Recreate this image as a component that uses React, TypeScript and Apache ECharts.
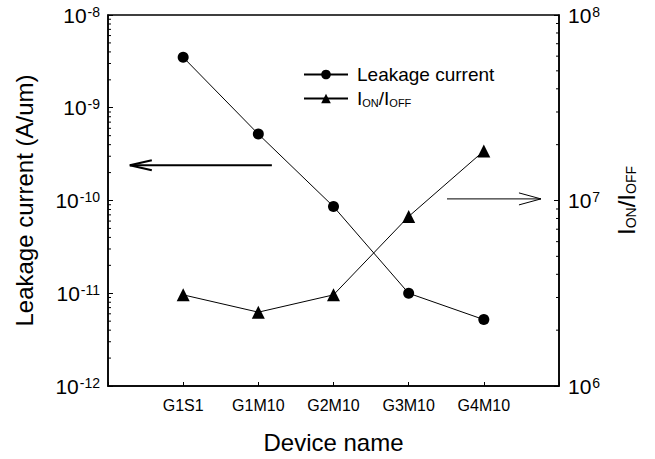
import React, { useEffect, useRef } from 'react';
import * as echarts from 'echarts';

const categories = ['G1S1', 'G1M10', 'G2M10', 'G3M10', 'G4M10'];
const leakage = [3.5e-9, 5.2e-10, 8.6e-11, 1.0e-11, 5.2e-12];
const ionIoff = [3.1e6, 2.5e6, 3.1e6, 8.2e6, 1.85e7];
const minorMultipliers = [2, 3, 4, 5, 6, 7, 8, 9];
const leftDecades = [1e-12, 1e-11, 1e-10, 1e-9];
const rightDecades = [1e6, 1e7];
// [x start, y start, x tip, y tip] in data coordinates
const leftArrow = [2.18, 2.4e-10, 0.29, 2.4e-10];
const rightArrow = [4.51, 1.02e7, 5.76, 1.02e7];

const FONT = '"Liberation Sans", Arial, sans-serif';

const supRich = {
  b: { fontSize: 21, fontFamily: FONT, color: '#000' },
  s: { fontSize: 14, fontFamily: FONT, color: '#000', verticalAlign: 'top' as const, padding: [0, 0, 0, 1] },
};

export default function App() {
  const ref = useRef<HTMLDivElement>(null);
  useEffect(() => {
    if (!ref.current) return;
    const chart = echarts.init(ref.current, undefined, { renderer: 'svg' });
    const leftMinor = leftDecades.flatMap((d) => minorMultipliers.map((m) => m * d));
    const rightMinor = rightDecades.flatMap((d) => minorMultipliers.map((m) => m * d));
    const tickRender = (xVal: number, dir: number) => (params: any, api: any) => {
      const p = api.coord([xVal, api.value(1)]);
      return {
        type: 'line',
        shape: { x1: p[0], y1: p[1], x2: p[0] + dir * 3, y2: p[1] },
        style: { stroke: '#000', lineWidth: 1 },
      };
    };
    const arrowRender = (lw: number, len: number, w: number) => (params: any, api: any) => {
      const p0 = api.coord([api.value(0), api.value(1)]);
      const p1 = api.coord([api.value(2), api.value(3)]);
      const dir = p1[0] > p0[0] ? 1 : -1;
      const st = { stroke: '#000', lineWidth: lw };
      return {
        type: 'group',
        children: [
          { type: 'line', shape: { x1: p0[0], y1: p0[1], x2: p1[0], y2: p1[1] }, style: st },
          { type: 'line', shape: { x1: p1[0], y1: p1[1], x2: p1[0] - dir * len, y2: p1[1] - w }, style: st },
          { type: 'line', shape: { x1: p1[0], y1: p1[1], x2: p1[0] - dir * len, y2: p1[1] + w }, style: st },
        ],
      };
    };
    const axisLine = { show: true, lineStyle: { color: '#000', width: 1.5 } };
    chart.setOption({
      animation: false,
      backgroundColor: '#fff',
      grid: { left: 108, right: 96, top: 15, bottom: 65, show: true, borderColor: '#000', borderWidth: 1.5 },
      legend: {
        data: ['Leakage current', 'ION/IOFF'],
        orient: 'vertical',
        left: 298,
        top: 60,
        itemWidth: 44,
        itemHeight: 12,
        itemGap: 5,
        formatter: (name: string) => (name === 'ION/IOFF' ? '{b|I}{s|ON}{b|/I}{s|OFF}' : name),
        textStyle: {
          fontSize: 19,
          fontFamily: FONT,
          color: '#000',
          padding: [0, 0, 0, 4],
          rich: {
            b: { fontSize: 19, lineHeight: 19, fontFamily: FONT, color: '#000' },
            s: { fontSize: 11, lineHeight: 9, fontFamily: FONT, color: '#000', verticalAlign: 'bottom' },
          },
        },
      },
      xAxis: {
        type: 'value',
        min: 0,
        max: 6,
        interval: 1,
        axisLine,
        axisTick: { inside: true, length: 4, lineStyle: { color: '#000', width: 1 } },
        splitLine: { show: false },
        axisLabel: {
          formatter: (v: number) => categories[v - 1] ?? '',
          fontSize: 16,
          fontFamily: FONT,
          color: '#000',
          margin: 11,
        },
        name: 'Device name',
        nameLocation: 'middle',
        nameGap: 44,
        nameTextStyle: { fontSize: 24, fontFamily: FONT, color: '#000' },
      },
      yAxis: [
        {
          type: 'log',
          logBase: 10,
          min: 1e-12,
          max: 1e-8,
          position: 'left',
          axisLine,
          axisTick: { inside: true, length: 5, lineStyle: { color: '#000', width: 1 } },
          splitLine: { show: false },
          axisLabel: {
            formatter: (v: number) => `{b|10}{s|${Math.round(Math.log10(v))}}`,
            rich: supRich,
            margin: 8,
          },
          name: 'Leakage current (A/um)',
          nameLocation: 'middle',
          nameGap: 72,
          nameRotate: 90,
          nameTextStyle: { fontSize: 24, fontFamily: FONT, color: '#000' },
        },
        {
          type: 'log',
          logBase: 10,
          min: 1e6,
          max: 1e8,
          position: 'right',
          axisLine,
          axisTick: { inside: true, length: 5, lineStyle: { color: '#000', width: 1 } },
          splitLine: { show: false },
          axisLabel: {
            formatter: (v: number) => `{b|10}{s|${Math.round(Math.log10(v))}}`,
            rich: supRich,
            margin: 9,
          },
          name: '{b|I}{s|ON}{b|/I}{s|OFF}',
          nameLocation: 'middle',
          nameGap: 55,
          nameRotate: 90,
          nameTextStyle: {
            fontSize: 24,
            fontFamily: FONT,
            color: '#000',
            rich: {
              b: { fontSize: 24, lineHeight: 24, fontFamily: FONT, color: '#000' },
              s: { fontSize: 14, lineHeight: 12, fontFamily: FONT, color: '#000', verticalAlign: 'bottom' },
            },
          },
        },
      ],
      series: [
        {
          name: 'Leakage current',
          type: 'line',
          yAxisIndex: 0,
          data: categories.map((_, i) => [i + 1, leakage[i]]),
          symbol: 'circle',
          symbolSize: 11,
          lineStyle: { color: '#000', width: 1 },
          itemStyle: { color: '#000' },
          z: 5,
        },
        {
          name: 'ION/IOFF',
          type: 'line',
          yAxisIndex: 1,
          data: categories.map((_, i) => [i + 1, ionIoff[i]]),
          symbol: 'triangle',
          symbolSize: 13,
          lineStyle: { color: '#000', width: 1 },
          itemStyle: { color: '#000' },
          z: 5,
        },
        {
          type: 'custom',
          yAxisIndex: 0,
          data: leftMinor.map((v) => [0, v]),
          renderItem: tickRender(0, 1),
          silent: true,
          clip: false,
        },
        {
          type: 'custom',
          yAxisIndex: 1,
          data: rightMinor.map((v) => [6, v]),
          renderItem: tickRender(6, -1),
          silent: true,
          clip: false,
        },
        {
          type: 'custom',
          yAxisIndex: 0,
          data: [leftArrow],
          encode: { x: [0, 2], y: [1, 3] },
          renderItem: arrowRender(2.2, 22, 5),
          silent: true,
          clip: false,
        },
        {
          type: 'custom',
          yAxisIndex: 1,
          data: [rightArrow],
          encode: { x: [0, 2], y: [1, 3] },
          renderItem: arrowRender(1, 22, 6),
          silent: true,
          clip: false,
        },
      ],
    });
    return () => chart.dispose();
  }, []);
  return <div ref={ref} style={{ position: 'absolute', left: 0, top: 0, width: 655, height: 459 }} />;
}
